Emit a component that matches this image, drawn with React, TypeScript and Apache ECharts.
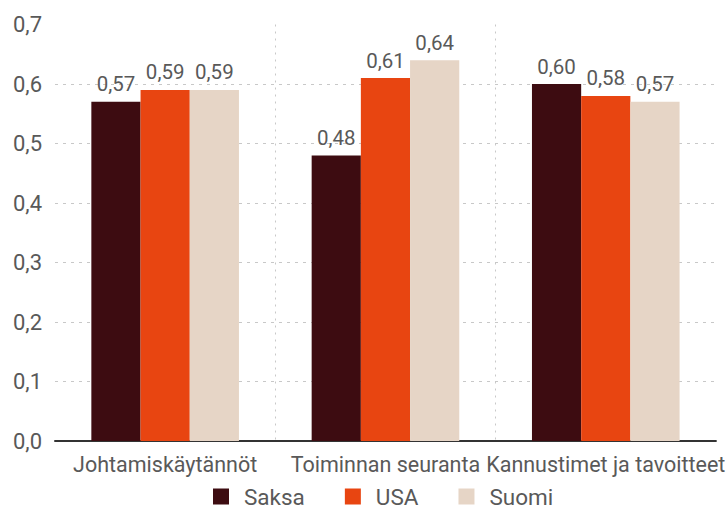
import React, { useEffect, useRef } from "react";
import * as echarts from "echarts";

const categories = ["Johtamiskäytännöt", "Toiminnan seuranta", "Kannustimet ja tavoitteet"];
const seriesNames = ["Saksa", "USA", "Suomi"];
const saksa = [0.57, 0.48, 0.6];
const usa = [0.59, 0.61, 0.58];
const suomi = [0.59, 0.64, 0.57];
const colors = ["#3d0c11", "#e84511", "#e6d5c6"];

const fmt = (v: number) => v.toFixed(2).replace(".", ",");

export default function App() {
  const ref = useRef<HTMLDivElement>(null);
  useEffect(() => {
    if (!ref.current) return;
    const chart = echarts.init(ref.current, undefined, { renderer: "svg" });
    const values = [saksa, usa, suomi];
    chart.setOption({
      animation: false,
      textStyle: { fontFamily: "Roboto" },
      grid: { left: 55, right: 10, top: 24.5, bottom: 71, containLabel: false },
      legend: {
        top: 485,
        left: 213,
        padding: 0,
        itemWidth: 16,
        itemHeight: 16,
        itemGap: 40,
        icon: "rect",
        textStyle: {
          fontSize: 22.5,
          color: "#595959",
          fontFamily: "Roboto",
          padding: [0, 0, 0, 10],
        },
        data: seriesNames,
      },
      xAxis: {
        type: "category",
        data: categories,
        axisTick: { show: false },
        axisLine: { lineStyle: { color: "#333", width: 2 } },
        axisLabel: { interval: 0, fontSize: 21.5, color: "#595959", margin: 12, fontFamily: "Roboto" },
        splitLine: {
          show: true,
          showMinLine: false,
          showMaxLine: false,
          lineStyle: { type: [2, 5], color: "#c8c8c8" },
        },
      },
      yAxis: {
        type: "value",
        min: 0,
        max: 0.7,
        interval: 0.1,
        axisLine: { show: false },
        axisTick: { show: false },
        axisLabel: {
          fontSize: 22,
          color: "#595959",
          margin: 13,
          fontFamily: "Roboto",
          formatter: (v: number) => v.toFixed(1).replace(".", ","),
        },
        splitLine: {
          show: true,
          showMaxLine: false,
          lineStyle: { type: [3, 5], color: "#c8c8c8" },
        },
      },
      series: seriesNames.map((name, i) => ({
        name,
        type: "bar",
        data: values[i],
        barGap: "0%",
        barCategoryGap: "33%",
        itemStyle: { color: colors[i] },
        label: {
          show: true,
          position: "top",
          distance: 7,
          fontSize: 20.5,
          color: "#595959",
          fontFamily: "Roboto",
          formatter: (p: any) => fmt(p.value),
        },
      })),
    });
    return () => chart.dispose();
  }, []);
  return (
    <div
      ref={ref}
      style={{ position: "fixed", left: 0, top: 0, width: 728, height: 512, background: "#fff" }}
    />
  );
}
